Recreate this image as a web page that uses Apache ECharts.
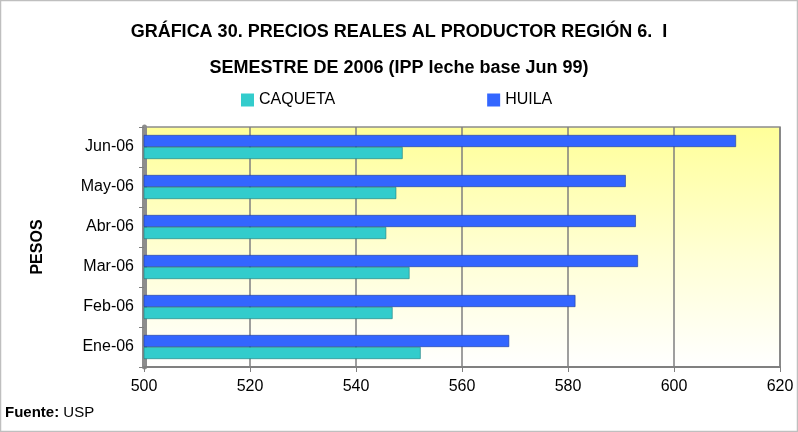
<!DOCTYPE html>
<html>
<head>
<meta charset="utf-8">
<script src="https://cdn.jsdelivr.net/npm/echarts@6/dist/echarts.min.js"></script>
<style>
  html, body { margin: 0; padding: 0; background: #fff; }
  #chart { width: 798px; height: 432px; }
</style>
</head>
<body>
<div id="chart"></div>
<script>
// datos de la gráfica
const meses = ['Ene-06', 'Feb-06', 'Mar-06', 'Abr-06', 'May-06', 'Jun-06'];
const caqueta = [552.2, 546.9, 550.1, 545.7, 547.6, 548.8];
const huila = [568.9, 581.4, 593.2, 592.8, 590.9, 611.7];
const ticksX = [500, 520, 540, 560, 580, 600, 620];

const fuente = 'Liberation Sans, Arial, sans-serif';

const chart = echarts.init(document.getElementById('chart'));

const option = {
    animation: false,
    title: {
        text: 'GRÁFICA 30. PRECIOS REALES AL PRODUCTOR REGIÓN 6.  I\nSEMESTRE DE 2006 (IPP leche base Jun 99)',
        left: 'center',
        top: 9,
        textStyle: {
            fontFamily: fuente,
            fontSize: 18,
            fontWeight: 'bold',
            color: '#000',
            lineHeight: 36
        }
    },
    legend: {
        top: 87,
        left: 236,
        itemGap: 152,
        itemWidth: 13,
        itemHeight: 13,
        icon: 'rect',
        itemStyle: { borderWidth: 0 },
        textStyle: { fontFamily: fuente, fontSize: 16, color: '#000' },
        data: ['CAQUETA', 'HUILA']
    },
    grid: {
        left: 144,
        right: 18,
        top: 127,
        bottom: 65,
        show: true,
        borderWidth: 1.5,
        borderColor: '#8c8c8c',
        backgroundColor: 'transparent'
    },
    xAxis: {
        type: 'value',
        min: ticksX[0],
        max: ticksX[ticksX.length - 1],
        interval: 20,
        axisLine: { show: true, lineStyle: { color: '#808080', width: 2 } },
        axisTick: { show: true, lineStyle: { color: '#808080' } },
        axisLabel: { fontFamily: fuente, fontSize: 16, color: '#000', margin: 12 },
        splitLine: { show: true, lineStyle: { color: '#7f7f7f', width: 1.5 } }
    },
    yAxis: {
        type: 'category',
        data: meses,
        name: 'PESOS',
        nameLocation: 'middle',
        nameGap: 98,
        nameRotate: 90,
        nameTextStyle: { fontFamily: fuente, fontSize: 16, fontWeight: 'bold', color: '#000' },
        axisLine: { show: true, lineStyle: { color: '#8c8c8c', width: 5 } },
        axisTick: { show: true, lineStyle: { color: '#808080' } },
        axisLabel: { fontFamily: fuente, fontSize: 16, color: '#000', margin: 10 }
    },
    series: [
        {
            name: 'HUILA',
            type: 'bar',
            data: huila,
            barWidth: 12,
            barGap: '0%',
            itemStyle: { color: '#3366ff', borderColor: '#1f3d99', borderWidth: 0.6 }
        },
        {
            name: 'CAQUETA',
            type: 'bar',
            data: caqueta,
            barWidth: 12,
            itemStyle: { color: '#33cccc', borderColor: '#1f7a7a', borderWidth: 0.6 }
        }
    ],
    graphic: [
        {
            // fondo degradado del área de trazado
            type: 'rect',
            z: -10,
            silent: true,
            shape: { x: 144, y: 127, width: 636, height: 240 },
            style: {
                fill: new echarts.graphic.LinearGradient(0, 0, 0, 1, [
                    { offset: 0, color: '#ffff99' },
                    { offset: 0.55, color: '#ffffd6' },
                    { offset: 1, color: '#ffffff' }
                ])
            }
        },
        {
            type: 'rect',
            shape: { x: 0.5, y: 0.5, width: 797, height: 431 },
            style: { fill: 'none', stroke: '#bfbfbf', lineWidth: 1.5 },
            silent: true
        },
        {
            type: 'text',
            left: 5,
            top: 405,
            style: {
                text: '{b|Fuente:} USP',
                rich: { b: { fontWeight: 'bold', fontSize: 15, fontFamily: fuente } },
                fontSize: 15,
                fontFamily: fuente,
                fill: '#000'
            }
        }
    ]
};

chart.setOption(option);
</script>
</body>
</html>
